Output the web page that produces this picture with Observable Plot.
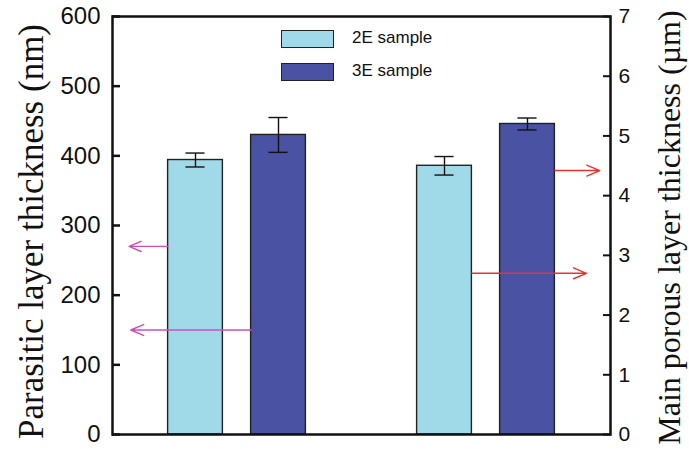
<!DOCTYPE html>
<html>
<head>
<meta charset="utf-8">
<script src="https://cdn.jsdelivr.net/npm/d3@7"></script>
<script src="https://cdn.jsdelivr.net/npm/@observablehq/plot@0.6"></script>
<style>
  html, body { margin: 0; padding: 0; background: #fff; }
  #wrap { position: relative; width: 689px; height: 449px; }
  .leg { position: absolute; font-family: "Liberation Sans", Arial, sans-serif; font-size: 17px; color: #111; }
  .box { position: absolute; width: 51px; height: 16px; border: 1.3px solid #222; }
</style>
</head>
<body>
<div id="wrap"></div>
<script>
// ---- data ----
const groups = ["Parasitic layer", "Main porous layer"];
const samples = ["2E sample", "3E sample"];
const parasiticNm = [394, 430];        // left axis (nm)
const parasiticErrNm = [10, 25];
const mainPorousUm = [4.5, 5.2];       // right axis (µm)
const mainPorousErrUm = [0.155, 0.1];
const leftTicks = [0, 100, 200, 300, 400, 500, 600];
const rightTicks = [0, 1, 2, 3, 4, 5, 6, 7];
const sampleColors = ["#a0d9e8", "#4a52a3"];
// annotation arrows: value and direction
const leftArrowsNm = [270, 150];       // point to left axis
const rightArrowsUm = [4.42, 2.7];     // point to right axis

const umToNm = v => v * 600 / 7;
const halfBar = 0.33, halfCap = 0.115;

const rows = [];
groups.forEach((g, gi) => samples.forEach((s, si) => {
  const v = gi === 0 ? parasiticNm[si] : umToNm(mainPorousUm[si]);
  const e = gi === 0 ? parasiticErrNm[si] : umToNm(mainPorousErrUm[si]);
  rows.push({group: g, sample: s, pos: gi * 3 + si + 1, value: v, err: e, color: sampleColors[si]});
}));

// arrows anchored to bar edges
const arrows = [
  {y: leftArrowsNm[0], x1: rows[0].pos - halfBar, x2: 0.2, c: "#cc50b8"},
  {y: leftArrowsNm[1], x1: rows[1].pos - halfBar, x2: 0.22, c: "#cc50b8"},
  {y: umToNm(rightArrowsUm[0]), x1: rows[3].pos + halfBar, x2: 5.87, c: "#e8322e"},
  {y: umToNm(rightArrowsUm[1]), x1: rows[2].pos + halfBar, x2: 5.71, c: "#e8322e"}
];

const chart = Plot.plot({
  width: 689,
  height: 449,
  marginLeft: 112,
  marginRight: 79,
  marginTop: 16,
  marginBottom: 15,
  style: {fontFamily: "'Liberation Sans', Arial, sans-serif", background: "#fff", color: "#111"},
  x: {domain: [0, 6], axis: null},
  y: {domain: [0, 600], axis: null},
  marks: [
    Plot.rectY(rows, {x1: d => d.pos - halfBar, x2: d => d.pos + halfBar, y1: 0, y2: "value",
      fill: "color", stroke: "#222", strokeWidth: 1.4}),
    Plot.link(rows, {x1: "pos", x2: "pos", y1: d => d.value - d.err, y2: d => d.value + d.err,
      stroke: "#111", strokeWidth: 1.4}),
    Plot.ruleY(rows, {y: d => d.value + d.err, x1: d => d.pos - halfCap, x2: d => d.pos + halfCap, stroke: "#111", strokeWidth: 1.4}),
    Plot.ruleY(rows, {y: d => d.value - d.err, x1: d => d.pos - halfCap, x2: d => d.pos + halfCap, stroke: "#111", strokeWidth: 1.4}),
    Plot.arrow(arrows, {x1: "x1", x2: "x2", y1: "y", y2: "y", stroke: "c", strokeWidth: 1.4,
      headLength: 15, headAngle: 46}),
    Plot.frame({stroke: "#111", strokeWidth: 2.5}),
    Plot.axisY(leftTicks, {anchor: "left", tickSize: -8, tickPadding: 20, fontSize: 24,
      strokeWidth: 2.5, label: null, tickFormat: d => d}),
    Plot.axisY(rightTicks.map(umToNm), {anchor: "right", tickSize: -8, tickPadding: 16, fontSize: 21,
      strokeWidth: 2, label: null, tickFormat: d => Math.round(d * 7 / 600)}),
    Plot.text(["Parasitic layer thickness (nm)"], {frameAnchor: "left", textAnchor: "middle", rotate: -90, dx: -81, dy: 6,
      fontSize: 35, fontFamily: "'Liberation Serif', 'Times New Roman', serif", fill: "#111"}),
    Plot.text(["Main porous layer thickness (µm)"], {frameAnchor: "right", textAnchor: "middle", rotate: -90, dx: 59, dy: 2,
      fontSize: 32, fontFamily: "'Liberation Serif', 'Times New Roman', serif", fill: "#111"})
  ]
});

const wrap = document.getElementById("wrap");
wrap.appendChild(chart);
// legend
samples.forEach((s, i) => {
  const b = document.createElement("div");
  b.className = "box";
  b.style.left = "281px";
  b.style.top = (30 + i * 32.5) + "px";
  b.style.background = sampleColors[i];
  wrap.appendChild(b);
  const t = document.createElement("div");
  t.className = "leg";
  t.textContent = s;
  t.style.left = "352px";
  t.style.top = (28 + i * 32.5) + "px";
  wrap.appendChild(t);
});
</script>
</body>
</html>
